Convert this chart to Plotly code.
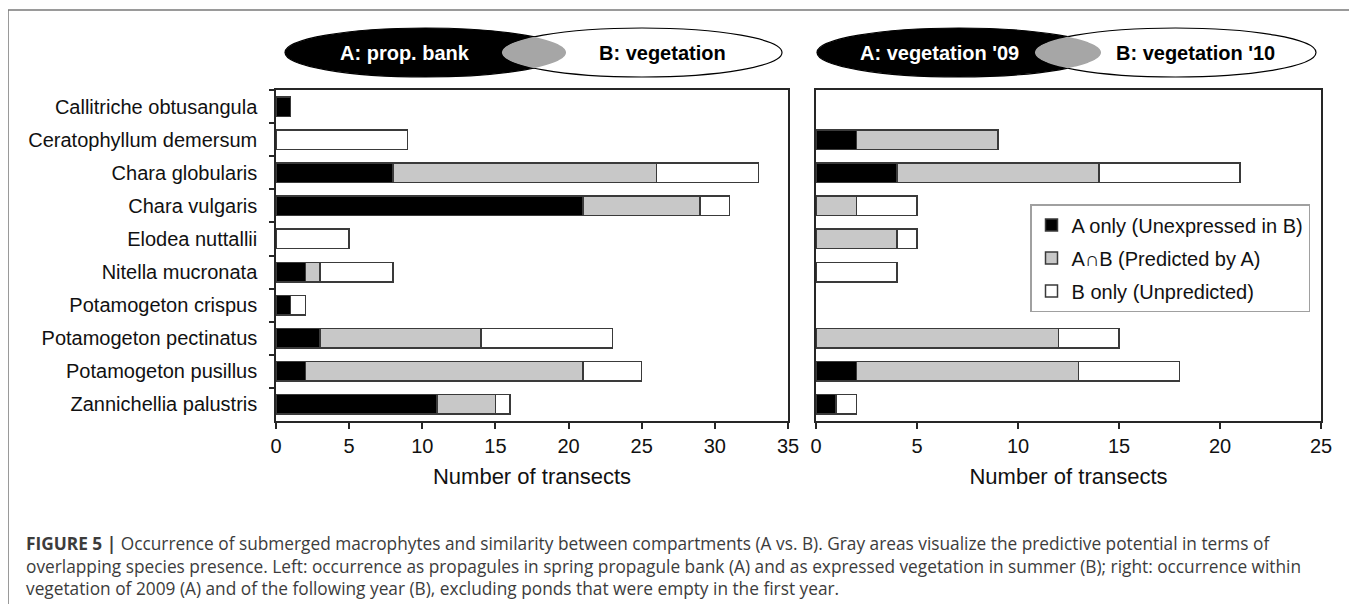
import numpy as np
import plotly.graph_objects as go

# ---------------- data ----------------
species = [
    "Callitriche obtusangula", "Ceratophyllum demersum", "Chara globularis",
    "Chara vulgaris", "Elodea nuttallii", "Nitella mucronata",
    "Potamogeton crispus", "Potamogeton pectinatus", "Potamogeton pusillus",
    "Zannichellia palustris",
]

# left panel: A = propagule bank, B = vegetation
left_a_only = [1, 0, 8, 21, 0, 2, 1, 3, 2, 11]
left_ab = [0, 0, 18, 8, 0, 1, 0, 11, 19, 4]
left_b_only = [0, 9, 7, 2, 5, 5, 1, 9, 4, 1]

# right panel: A = vegetation '09, B = vegetation '10
right_a_only = [0, 2, 4, 0, 0, 0, 0, 0, 2, 1]
right_ab = [0, 7, 10, 2, 4, 0, 0, 12, 11, 0]
right_b_only = [0, 0, 7, 3, 1, 4, 0, 3, 5, 1]

series_names = ["A only (Unexpressed in B)", "A∩B (Predicted by A)", "B only (Unpredicted)"]
series_colors = ["#000000", "#c8c8c8", "#ffffff"]
legend_groups = ["a", "ab", "b"]

left_ticks = [0, 5, 10, 15, 20, 25, 30, 35]
right_ticks = [0, 5, 10, 15, 20, 25]

venn_left = ["A: prop. bank", "B: vegetation"]
venn_right = ["A: vegetation '09", "B: vegetation '10"]

caption_lines = [
    "<b>FIGURE 5 |</b> Occurrence of submerged macrophytes and similarity between compartments (A vs. B). Gray areas visualize the predictive potential in terms of",
    "overlapping species presence. Left: occurrence as propagules in spring propagule bank (A) and as expressed vegetation in summer (B); right: occurrence within",
    "vegetation of 2009 (A) and of the following year (B), excluding ponds that were empty in the first year.",
]
axis_title = "Number of transects"

# ---------------- geometry helpers ----------------
# the page body has an 8px margin, so the figure starts at (8, 8) in the window
OFF = 8
W, H = 1357 - OFF, 604 - OFF
FONT = "Liberation Sans, Arial, Helvetica, sans-serif"
OUTLINE = "#3a3a3a"


def px(x):
    return (x - OFF) / W


def py(y):
    return 1 - (y - OFF) / H


fig = go.Figure()

left_series = [left_a_only, left_ab, left_b_only]
right_series = [right_a_only, right_ab, right_b_only]


def add_bars(series, xa, ya, show):
    for i in range(3):
        # zero counts are left out so that no empty outlined sliver is drawn
        vals = [v if v > 0 else None for v in series[i]]
        fig.add_trace(go.Bar(
            y=species, x=vals, orientation="h", name=series_names[i],
            marker=dict(color=series_colors[i], line=dict(color=OUTLINE, width=1.5)),
            xaxis=xa, yaxis=ya, legendgroup=legend_groups[i], showlegend=show,
            hoverinfo="skip",
        ))


add_bars(left_series, "x", "y", True)
add_bars(right_series, "x2", "y2", False)

ydom = [py(421), py(90)]
axis_line = dict(showline=True, linecolor="#262626", linewidth=1.5, mirror=True,
                 showgrid=False, zeroline=False, automargin=False)

fig.update_layout(
    width=W, height=H,
    margin=dict(l=0, r=0, t=0, b=0, pad=0, autoexpand=False),
    paper_bgcolor="white", plot_bgcolor="white",
    barmode="stack", bargap=0.41,
    font=dict(family=FONT, size=20, color="#111111"),
    xaxis=dict(domain=[px(276), px(788)], range=[0, 35], tickvals=left_ticks,
               ticks="outside", ticklen=6, tickwidth=1.5, tickcolor="#262626",
               title=dict(text=axis_title, font=dict(size=22), standoff=13),
               anchor="y", **axis_line),
    yaxis=dict(domain=ydom, categoryorder="array", categoryarray=species,
               autorange="reversed", ticks="outside", ticklen=5, tickwidth=1.5,
               tickcolor="#262626", tickson="boundaries", ticklabelstandoff=13,
               anchor="x", **axis_line),
    xaxis2=dict(domain=[px(816), px(1321)], range=[0, 25], tickvals=right_ticks,
                ticks="outside", ticklen=6, tickwidth=1.5, tickcolor="#262626",
                title=dict(text=axis_title, font=dict(size=22), standoff=13),
                anchor="y2", **axis_line),
    yaxis2=dict(domain=ydom, categoryorder="array", categoryarray=species,
                autorange="reversed", showticklabels=False, ticks="",
                anchor="x2", **axis_line),
    legend=dict(x=px(1030), y=py(204), xanchor="left", yanchor="top",
                bordercolor="#a0a0a0", borderwidth=1.5, bgcolor="white",
                font=dict(size=20, color="#111111"), traceorder="grouped",
                tracegroupgap=4, itemclick=False),
    showlegend=True,
)

shapes = []
annotations = []


def ellipse_lens(ca, a1, cb, a2, cy, b, n=60):
    xi = (ca * a2 + cb * a1) / (a1 + a2)
    t = np.arccos(np.clip((xi - ca) / a1, -1, 1))
    s = np.arccos(np.clip((cb - xi) / a2, -1, 1))
    pts = []
    for th in np.linspace(-t, t, n):
        pts.append((ca + a1 * np.cos(th), cy + b * np.sin(th)))
    for th in np.linspace(np.pi - s, np.pi + s, n)[::-1]:
        pts.append((cb + a2 * np.cos(th), cy + b * np.sin(th)))
    path = "M " + " L ".join(f"{px(x):.5f},{py(y):.5f}" for x, y in pts) + " Z"
    return path


def venn(ax0, ax1, bx0, bx1, y0, y1, labels, ta, tb):
    shapes.append(dict(type="circle", xref="paper", yref="paper",
                       x0=px(ax0), x1=px(ax1), y0=py(y1), y1=py(y0),
                       fillcolor="#000000", line=dict(color="#000000", width=1.2)))
    shapes.append(dict(type="circle", xref="paper", yref="paper",
                       x0=px(bx0), x1=px(bx1), y0=py(y1), y1=py(y0),
                       fillcolor="#ffffff", line=dict(color="#000000", width=1.2)))
    cy = (y0 + y1) / 2
    b = (y1 - y0) / 2
    shapes.append(dict(type="path", xref="paper", yref="paper",
                       path=ellipse_lens((ax0 + ax1) / 2, (ax1 - ax0) / 2,
                                         (bx0 + bx1) / 2, (bx1 - bx0) / 2, cy, b),
                       fillcolor="#a6a6a6", line=dict(width=0)))
    annotations.append(dict(x=px(ta), y=py(cy), xref="paper", yref="paper",
                            xanchor="center", yanchor="middle",
                            text=f"<b>{labels[0]}</b>", showarrow=False,
                            font=dict(size=20, color="white", family=FONT)))
    annotations.append(dict(x=px(tb), y=py(cy), xref="paper", yref="paper",
                            xanchor="center", yanchor="middle",
                            text=f"<b>{labels[1]}</b>", showarrow=False,
                            font=dict(size=20, color="black", family=FONT)))


venn(285, 566, 502, 782, 28, 77, venn_left, 405, 662)
venn(817, 1101, 1035, 1316, 28, 77, venn_right, 939, 1195)

# outer frame
shapes.append(dict(type="rect", xref="paper", yref="paper",
                   x0=px(8), x1=px(1352), y0=py(640), y1=py(10),
                   line=dict(color="#7a7a7a", width=1.5), fillcolor="rgba(0,0,0,0)",
                   layer="below"))

cap_y = [543, 566, 588]
for line, yy in zip(caption_lines, cap_y):
    annotations.append(dict(x=px(24), y=py(yy), xref="paper", yref="paper",
                            xanchor="left", yanchor="middle", text=line,
                            showarrow=False,
                            font=dict(size=17.3, color="#3c3c3c", family="Open Sans, sans-serif")))

fig.update_layout(shapes=shapes, annotations=annotations)

fig.write_html("out.html")
